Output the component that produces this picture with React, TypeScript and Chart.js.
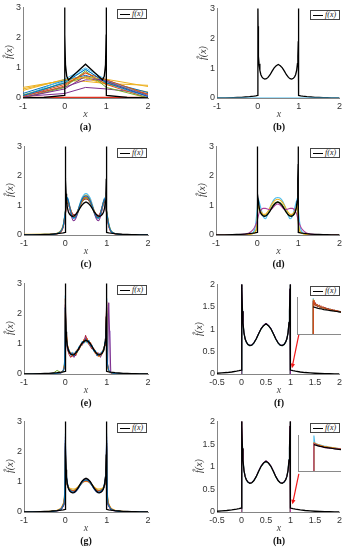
import React, { useEffect, useRef } from 'react';
import { Chart, registerables } from 'chart.js';
Chart.register(...registerables);
Chart.defaults.font.family = "'Liberation Sans', Arial, sans-serif";

const BLACK = '#000000';
const BLUE = '#0072BD';
const ORANGE = '#D95319';
const YELLOW = '#EDB120';
const PURPLE = '#7E2F8E';
const GREEN = '#77AC30';
const CYAN = '#4DBEEE';
const DARKRED = '#A2142F';
const RED = '#E0301E';
const MAGENTA = '#B0409A';
const LAVENDER = '#B89BD8';
const ARROW_RED = '#F01818';

// ---- true density f(x) ----
const fX = [-1, -0.8, -0.6, -0.5, -0.4, -0.3, -0.2, -0.1, -0.05, -0.001, 0, 0.003, 0.006, 0.01, 0.02, 0.03, 0.05, 0.075, 0.1, 0.13, 0.17, 0.21, 0.25, 0.3, 0.35, 0.4, 0.45, 0.5, 0.55, 0.6, 0.65, 0.7, 0.75, 0.79, 0.83, 0.87, 0.9, 0.925, 0.95, 0.97, 0.98, 0.99, 0.994, 0.997, 1, 1.001, 1.05, 1.1, 1.2, 1.3, 1.4, 1.5, 1.6, 1.7, 1.8, 1.9, 2];
const fY = [0.003, 0.006, 0.012, 0.017, 0.024, 0.033, 0.045, 0.062, 0.073, 0.088, 5, 3.2, 2.4, 1.9, 1.4, 1.15, 0.92, 0.78, 0.71, 0.66, 0.635, 0.645, 0.69, 0.78, 0.9, 1.01, 1.08, 1.12, 1.08, 1.01, 0.9, 0.78, 0.69, 0.645, 0.635, 0.66, 0.71, 0.78, 0.92, 1.15, 1.4, 1.9, 2.4, 3.2, 5, 0.088, 0.073, 0.062, 0.045, 0.033, 0.024, 0.017, 0.012, 0.008, 0.006, 0.004, 0.003];

// coarse f for panel (a)
const fAX = [-1, -0.5, -0.001, 0, 0.005, 0.02, 0.05, 0.09, 0.5, 0.91, 0.95, 0.98, 0.995, 1, 1.001, 1.5, 2];
const fAY = [0.003, 0.017, 0.088, 5, 2.1, 1.1, 0.72, 0.6, 1.12, 0.6, 0.72, 1.1, 2.1, 5, 0.088, 0.017, 0.003];

// ---- panel (a) ----
const xA = [-1, 0, 0.5, 1, 2];
const a1 = [0.08, 0.5, 0.95, 0.5, 0.05];
const a2 = [0.05, 0.45, 0.82, 0.6, 0.12];
const a3 = [0.3, 0.6, 0.7, 0.62, 0.38];
const a4 = [0.02, 0.3, 0.72, 0.55, 0.05];
const a5 = [0.0, 0.35, 0.9, 0.35, 0.0];
const a6 = [0.05, 0.62, 1.0, 0.6, 0.05];
const a7 = [0.02, 0.02, 0.02, 0.02, 0.02];
const a8 = [0.15, 0.58, 0.75, 0.55, 0.18];
const a9 = [0.0, 0.4, 0.85, 0.45, 0.0];
const a10 = [0.25, 0.62, 0.66, 0.45, 0.2];
const a11 = [0.08, 0.36, 0.6, 0.6, 0.08];
const a12 = [0.1, 0.5, 0.68, 0.5, 0.12];
const a13 = [0.0, 0.55, 0.95, 0.5, 0.0];
const a14 = [0.35, 0.58, 0.55, 0.48, 0.42];
const a15 = [0.05, 0.15, 0.35, 0.3, 0.15];

// ---- panel (b) ----
const xB0 = [-1, 2];
const b0 = [0, 0];

// ---- panel (c) ----
const xC = [-1, -0.5, -0.3, -0.2, -0.1, -0.05, 0, 0.05, 0.1, 0.15, 0.2, 0.25, 0.3, 0.35, 0.4, 0.45, 0.5, 0.55, 0.6, 0.65, 0.7, 0.75, 0.8, 0.85, 0.9, 0.95, 1, 1.05, 1.1, 1.2, 1.3, 1.5, 2];
const c1 = [0.01, 0.01, 0.02, 0.05, 0.15, 0.32, 0.8, 1.25, 0.98, 0.7, 0.58, 0.62, 0.8, 1.02, 1.2, 1.3, 1.32, 1.28, 1.16, 0.98, 0.78, 0.62, 0.58, 0.72, 1.0, 1.22, 0.78, 0.35, 0.14, 0.05, 0.02, 0.01, 0.01];
const c2 = [0.01, 0.01, 0.02, 0.04, 0.12, 0.3, 0.75, 1.2, 1.0, 0.75, 0.62, 0.65, 0.8, 0.98, 1.15, 1.25, 1.28, 1.25, 1.15, 0.98, 0.8, 0.66, 0.62, 0.75, 1.0, 1.2, 0.75, 0.32, 0.12, 0.04, 0.02, 0.01, 0.01];
const c3 = [0.02, 0.02, 0.03, 0.06, 0.17, 0.35, 0.78, 1.18, 0.95, 0.72, 0.62, 0.66, 0.82, 1.0, 1.18, 1.3, 1.35, 1.3, 1.18, 1.0, 0.82, 0.66, 0.6, 0.72, 0.98, 1.2, 0.8, 0.38, 0.15, 0.05, 0.02, 0.01, 0.01];
const c4 = [0.01, 0.01, 0.02, 0.05, 0.14, 0.3, 0.72, 1.22, 0.92, 0.62, 0.48, 0.55, 0.75, 0.98, 1.18, 1.3, 1.33, 1.3, 1.18, 0.98, 0.75, 0.55, 0.48, 0.62, 0.92, 1.22, 0.72, 0.3, 0.13, 0.05, 0.02, 0.01, 0.01];
const c5 = [0.01, 0.02, 0.03, 0.06, 0.16, 0.33, 0.76, 1.15, 0.96, 0.74, 0.6, 0.6, 0.74, 0.95, 1.12, 1.22, 1.25, 1.22, 1.12, 0.95, 0.74, 0.6, 0.58, 0.7, 0.96, 1.18, 0.78, 0.36, 0.15, 0.05, 0.02, 0.01, 0.01];
const c6 = [0.01, 0.01, 0.02, 0.05, 0.15, 0.32, 0.78, 1.28, 1.02, 0.72, 0.56, 0.6, 0.8, 1.05, 1.25, 1.36, 1.4, 1.36, 1.25, 1.05, 0.8, 0.6, 0.55, 0.7, 1.0, 1.26, 0.82, 0.4, 0.16, 0.05, 0.02, 0.01, 0.01];
const c7 = [0.01, 0.01, 0.02, 0.04, 0.12, 0.28, 0.7, 1.1, 0.95, 0.78, 0.68, 0.7, 0.82, 0.98, 1.12, 1.2, 1.22, 1.2, 1.1, 0.96, 0.8, 0.7, 0.66, 0.76, 0.98, 1.15, 0.74, 0.32, 0.12, 0.04, 0.02, 0.01, 0.01];

// ---- panel (d) ----
const xD = [-1, -0.5, -0.3, -0.2, -0.1, -0.05, 0, 0.02, 0.05, 0.1, 0.15, 0.2, 0.25, 0.3, 0.35, 0.4, 0.45, 0.5, 0.55, 0.6, 0.65, 0.7, 0.75, 0.8, 0.85, 0.9, 0.95, 0.98, 1, 1.05, 1.1, 1.2, 1.3, 1.5, 2];
const dPurple = [0, 0.01, 0.03, 0.07, 0.18, 0.3, 0.48, 0.6, 0.75, 0.86, 0.9, 0.9, 0.88, 0.86, 0.88, 0.95, 1.02, 1.05, 1.02, 0.95, 0.88, 0.86, 0.88, 0.9, 0.9, 0.86, 0.75, 0.6, 0.48, 0.3, 0.18, 0.07, 0.03, 0.01, 0];
const dCyan = [0, 0, 0.01, 0.03, 0.08, 0.25, 0.85, 1.25, 1.12, 0.85, 0.62, 0.55, 0.68, 0.88, 1.05, 1.18, 1.25, 1.27, 1.25, 1.18, 1.05, 0.88, 0.68, 0.55, 0.62, 0.85, 1.12, 1.25, 0.85, 0.25, 0.08, 0.03, 0.01, 0, 0];
const dYellow = [0, 0, 0.01, 0.02, 0.05, 0.1, 0.4, 1.0, 0.92, 0.78, 0.7, 0.7, 0.78, 0.9, 1.03, 1.13, 1.19, 1.21, 1.19, 1.13, 1.03, 0.9, 0.78, 0.7, 0.7, 0.78, 0.92, 1.0, 0.4, 0.1, 0.05, 0.02, 0.01, 0, 0];
const dGreen = [0, 0, 0.01, 0.02, 0.05, 0.1, 0.45, 1.1, 0.88, 0.72, 0.66, 0.65, 0.7, 0.8, 0.93, 1.04, 1.1, 1.12, 1.1, 1.04, 0.93, 0.8, 0.7, 0.65, 0.66, 0.72, 0.88, 1.1, 0.45, 0.1, 0.05, 0.02, 0.01, 0, 0];

// ---- panel (e) ----
const xE = [-1, -0.5, -0.3, -0.2, -0.1, -0.05, -0.02, 0, 0.02, 0.05, 0.09, 0.13, 0.17, 0.21, 0.25, 0.29, 0.33, 0.37, 0.41, 0.45, 0.49, 0.53, 0.57, 0.61, 0.65, 0.69, 0.73, 0.77, 0.81, 0.85, 0.89, 0.93, 0.96, 0.98, 1, 1.02, 1.05, 1.1, 1.2, 1.4, 2];
const e1 = [0, 0.01, 0.01, 0.02, 0.04, 0.1, 0.25, 2.2, 1.3, 0.88, 0.8, 0.62, 0.7, 0.6, 0.75, 0.72, 0.9, 0.92, 1.08, 1.02, 1.15, 1.05, 1.12, 0.92, 0.95, 0.75, 0.78, 0.6, 0.68, 0.62, 0.75, 0.78, 1.05, 1.3, 2.0, 0.3, 0.12, 0.04, 0.01, 0.01, 0];
const e2 = [0, 0, 0.02, 0.01, 0.06, 0.12, 0.3, 2.5, 1.45, 1.0, 0.68, 0.72, 0.58, 0.7, 0.64, 0.82, 0.8, 1.0, 0.98, 1.15, 1.08, 1.18, 0.98, 1.05, 0.85, 0.85, 0.66, 0.72, 0.58, 0.7, 0.65, 0.88, 0.95, 1.5, 2.4, 0.35, 0.1, 0.03, 0.02, 0, 0];
const e3 = [0.01, 0, 0.01, 0.03, 0.05, 0.08, 0.35, 2.0, 1.38, 0.95, 0.78, 0.7, 0.6, 0.66, 0.7, 0.7, 0.88, 0.9, 1.0, 1.12, 1.05, 1.12, 1.08, 0.95, 0.92, 0.78, 0.7, 0.62, 0.58, 0.6, 0.72, 0.75, 1.02, 1.25, 1.9, 0.25, 0.08, 0.05, 0.01, 0.01, 0];
const e4 = [0, 0.01, 0.01, 0.02, 0.03, 0.1, 0.22, 2.3, 1.25, 0.85, 0.72, 0.65, 0.68, 0.55, 0.68, 0.78, 0.82, 0.98, 0.95, 1.08, 1.2, 1.1, 1.0, 1.02, 0.88, 0.8, 0.72, 0.65, 0.7, 0.55, 0.7, 0.82, 0.98, 1.35, 2.2, 0.2, 2.36, 0.05, 0.02, 0.01, 0];
const e5 = [0.01, 0.01, 0.02, 0.12, 0.04, 0.09, 0.28, 2.1, 1.35, 0.92, 0.75, 0.7, 0.66, 0.62, 0.72, 0.8, 0.85, 0.95, 1.05, 1.05, 1.1, 1.08, 1.02, 0.98, 0.9, 0.8, 0.68, 0.68, 0.62, 0.65, 0.7, 0.85, 1.0, 1.4, 2.1, 0.28, 0.11, 0.04, 0.01, 0.01, 0];
const e6 = [0, 0.01, 0.01, 0.02, 0.05, 0.15, 0.4, 2.6, 1.3, 0.95, 0.7, 0.68, 0.72, 0.66, 0.68, 0.76, 0.92, 0.96, 1.02, 1.1, 1.12, 1.02, 1.05, 0.95, 0.88, 0.75, 0.72, 0.68, 0.62, 0.68, 0.74, 0.8, 1.08, 1.45, 2.5, 0.35, 0.13, 0.05, 0.02, 0.01, 0];
const e7 = [0, 0, 0.01, 0.02, 0.04, 0.1, 0.3, 2.2, 1.4, 0.82, 0.65, 0.55, 0.62, 0.7, 0.6, 0.75, 0.8, 0.92, 1.0, 1.05, 1.28, 1.12, 1.0, 0.9, 0.82, 0.82, 0.7, 0.6, 0.62, 0.58, 0.68, 0.8, 1.0, 1.35, 2.3, 0.3, 0.1, 0.04, 0.01, 0, 0];
const eSpikeX = [1.07, 1.08, 1.09];
const eSpikeY = [0.03, 1.43, 0.03];

// ---- panel (g) ----
const xG = [-1, -0.5, -0.3, -0.2, -0.1, -0.05, -0.02, 0, 0.01, 0.03, 0.06, 0.1, 0.15, 0.2, 0.25, 0.3, 0.35, 0.4, 0.45, 0.5, 0.55, 0.6, 0.65, 0.7, 0.75, 0.8, 0.85, 0.9, 0.94, 0.97, 0.99, 1, 1.02, 1.05, 1.1, 1.2, 1.3, 1.5, 2];
const g1 = [0, 0.01, 0.02, 0.04, 0.1, 0.22, 0.45, 2.4, 1.6, 1.1, 0.86, 0.74, 0.68, 0.66, 0.7, 0.77, 0.87, 0.97, 1.04, 1.06, 1.04, 0.97, 0.87, 0.77, 0.7, 0.66, 0.68, 0.74, 0.86, 1.1, 1.6, 2.4, 0.45, 0.22, 0.1, 0.04, 0.02, 0.01, 0];
const g2 = [0, 0.01, 0.02, 0.05, 0.12, 0.25, 0.5, 2.2, 1.5, 1.05, 0.84, 0.75, 0.71, 0.7, 0.73, 0.8, 0.88, 0.96, 1.01, 1.03, 1.01, 0.96, 0.88, 0.8, 0.73, 0.7, 0.71, 0.75, 0.84, 1.05, 1.5, 2.2, 0.5, 0.25, 0.12, 0.05, 0.02, 0.01, 0];
const g3 = [0, 0.01, 0.03, 0.06, 0.14, 0.28, 0.55, 2.0, 1.4, 1.0, 0.86, 0.8, 0.77, 0.76, 0.78, 0.83, 0.9, 0.96, 1.0, 1.01, 1.0, 0.96, 0.9, 0.83, 0.78, 0.76, 0.77, 0.8, 0.86, 1.0, 1.4, 2.0, 0.55, 0.28, 0.14, 0.06, 0.03, 0.01, 0];
const g4 = [0, 0.01, 0.02, 0.04, 0.09, 0.2, 0.42, 2.5, 1.65, 1.12, 0.88, 0.72, 0.66, 0.65, 0.68, 0.76, 0.88, 1.0, 1.07, 1.1, 1.07, 1.0, 0.88, 0.76, 0.68, 0.65, 0.66, 0.72, 0.88, 1.12, 1.65, 2.5, 0.42, 0.2, 0.09, 0.04, 0.02, 0.01, 0];
const g5 = [0, 0.01, 0.02, 0.05, 0.11, 0.24, 0.48, 2.3, 1.55, 1.08, 0.85, 0.76, 0.72, 0.72, 0.75, 0.8, 0.9, 0.99, 1.05, 1.07, 1.05, 0.99, 0.9, 0.8, 0.75, 0.72, 0.72, 0.76, 0.85, 1.08, 1.55, 2.3, 0.48, 0.24, 0.11, 0.05, 0.02, 0.01, 0];
const g6 = [0, 0.01, 0.02, 0.05, 0.12, 0.26, 0.55, 2.6, 1.7, 1.2, 0.92, 0.74, 0.66, 0.64, 0.67, 0.75, 0.86, 0.96, 1.03, 1.05, 1.03, 0.96, 0.86, 0.75, 0.67, 0.64, 0.66, 0.74, 0.92, 1.15, 1.7, 2.6, 0.55, 0.26, 0.12, 0.05, 0.02, 0.01, 0];
const g7 = [0, 0.01, 0.02, 0.04, 0.1, 0.2, 0.44, 2.3, 1.5, 1.04, 0.84, 0.76, 0.72, 0.7, 0.72, 0.78, 0.88, 0.98, 1.04, 1.06, 1.04, 0.98, 0.88, 0.78, 0.72, 0.7, 0.72, 0.76, 0.84, 1.04, 1.5, 2.3, 0.44, 0.2, 0.1, 0.04, 0.02, 0.01, 0];

// ---- panels (f) and (h): estimates on [0, 1] ----
const estX = [0, 0.003, 0.006, 0.01, 0.02, 0.03, 0.05, 0.075, 0.1, 0.13, 0.17, 0.21, 0.25, 0.3, 0.35, 0.4, 0.45, 0.5, 0.55, 0.6, 0.65, 0.7, 0.75, 0.79, 0.83, 0.87, 0.9, 0.925, 0.95, 0.97, 0.98, 0.99, 0.994, 0.997, 1];
const estCyan = [0, 3.2, 2.4, 1.9, 1.4, 1.15, 0.92, 0.78, 0.71, 0.66, 0.635, 0.645, 0.69, 0.78, 0.9, 1.01, 1.08, 1.12, 1.08, 1.01, 0.9, 0.78, 0.69, 0.645, 0.635, 0.66, 0.71, 0.78, 0.92, 1.15, 1.4, 1.9, 2.4, 3.2, 0];
const estPurple = [0, 3.2, 2.4, 1.9, 1.4, 1.15, 0.92, 0.78, 0.71, 0.665, 0.64, 0.65, 0.695, 0.79, 0.91, 1.02, 1.095, 1.135, 1.095, 1.02, 0.91, 0.79, 0.695, 0.65, 0.64, 0.665, 0.71, 0.78, 0.92, 1.15, 1.4, 1.9, 2.4, 3.2, 0];
const estGreen = [0, 3.2, 2.4, 1.9, 1.4, 1.15, 0.92, 0.78, 0.71, 0.66, 0.63, 0.64, 0.685, 0.775, 0.895, 1.005, 1.075, 1.115, 1.075, 1.005, 0.895, 0.775, 0.685, 0.64, 0.63, 0.66, 0.71, 0.78, 0.92, 1.15, 1.4, 1.9, 2.4, 3.2, 0];
const arrowF = { from: [1.17, 0.88], to: [1.03, 0.13] };
const arrowH = { from: [1.17, 0.84], to: [1.04, 0.17] };

// ---- insets (zoom just right of x = 1) ----
const insetX = [1.001, 1.005, 1.01, 1.02, 1.03, 1.04, 1.05, 1.06, 1.07, 1.08, 1.09, 1.1, 1.11, 1.12, 1.13];
const insetEstX = [1, 1.001, 1.005, 1.01, 1.02, 1.03, 1.04, 1.05, 1.06, 1.07, 1.08, 1.09, 1.1, 1.11, 1.12, 1.13];
const insetBlack = [0.088, 0.087, 0.086, 0.084, 0.082, 0.081, 0.079, 0.078, 0.077, 0.076, 0.075, 0.074, 0.073, 0.072, 0.071];
const fInCyan = [0, 0.116, 0.1, 0.096, 0.093, 0.09, 0.087, 0.086, 0.083, 0.082, 0.08, 0.078, 0.077, 0.075, 0.074, 0.073];
const fInOrange = [0, 0.104, 0.11, 0.09, 0.097, 0.086, 0.091, 0.082, 0.086, 0.079, 0.081, 0.076, 0.078, 0.074, 0.074, 0.072];
const fInRed = [0, 0.108, 0.094, 0.102, 0.088, 0.094, 0.083, 0.088, 0.08, 0.083, 0.077, 0.079, 0.075, 0.076, 0.073, 0.072];
const fInGreen = [0, 0.1, 0.106, 0.094, 0.091, 0.088, 0.086, 0.084, 0.082, 0.081, 0.079, 0.077, 0.076, 0.075, 0.073, 0.072];
const fInYellow = [0, 0.112, 0.097, 0.099, 0.09, 0.091, 0.085, 0.085, 0.081, 0.08, 0.078, 0.078, 0.075, 0.074, 0.073, 0.071];
const fInBlue = [0, 0.106, 0.102, 0.092, 0.094, 0.087, 0.088, 0.083, 0.084, 0.079, 0.08, 0.076, 0.076, 0.074, 0.072, 0.072];
const hInCyan = [0, 0.118, 0.094, 0.092, 0.089, 0.087, 0.085, 0.083, 0.082, 0.08, 0.079, 0.078, 0.077, 0.076, 0.075, 0.074];
const hInPurple = [0, 0.092, 0.09, 0.088, 0.085, 0.082, 0.08, 0.078, 0.077, 0.076, 0.075, 0.075, 0.074, 0.074, 0.073, 0.073];
const hInOrange = [0, 0.094, 0.092, 0.09, 0.087, 0.085, 0.083, 0.081, 0.08, 0.079, 0.078, 0.077, 0.076, 0.075, 0.074, 0.073];
const hInGreen = [0, 0.093, 0.091, 0.089, 0.086, 0.084, 0.082, 0.08, 0.079, 0.078, 0.077, 0.076, 0.075, 0.074, 0.073, 0.072];
const hInYellow = [0, 0.095, 0.093, 0.091, 0.088, 0.086, 0.084, 0.082, 0.081, 0.08, 0.079, 0.078, 0.077, 0.076, 0.075, 0.074];

// ---- axis ticks: [min, max, step] ----
const xTicksWide = [-1, 2, 1];
const xTicksNarrow = [-0.5, 2, 0.5];
const yTicks3 = [3, 1];
const yTicks2 = [2, 0.5];

type Series = { xs: number[]; ys: number[]; color: string; w?: number; smooth?: boolean; top?: boolean };
type Plot = { l: number; t: number; r: number; b: number };
type InsetSpec = { left: number; top: number; width: number; height: number; xMin: number; xMax: number; yMax: number; series: Series[] };
type PanelSpec = {
  id: string; cl: number; cw: number; plot: Plot;
  xt: number[]; yt: number[]; series: Series[];
  arrow?: { from: number[]; to: number[] };
  inset?: InsetSpec;
};

const blackF: Series = { xs: fX, ys: fY, color: BLACK, w: 1.3 };
const S = (xs: number[], ys: number[], color: string, smooth = false, w = 1): Series => ({ xs, ys, color, smooth, w });

const PANELS: PanelSpec[] = [
  {
    id: 'a', cl: 0, cw: 172, plot: { l: 23, t: 6, r: 148, b: 98 }, xt: xTicksWide, yt: yTicks3,
    series: [
      { xs: fAX, ys: fAY, color: BLACK, w: 1.3 },
      S(xA, a1, BLUE), S(xA, a2, ORANGE), S(xA, a3, YELLOW), S(xA, a4, PURPLE), S(xA, a5, GREEN),
      S(xA, a6, CYAN), S(xA, a7, RED, false, 1.2), S(xA, a8, BLUE), S(xA, a9, ORANGE), S(xA, a10, YELLOW),
      S(xA, a11, PURPLE), S(xA, a12, GREEN), S(xA, a13, CYAN), S(xA, a14, YELLOW), S(xA, a15, PURPLE),
    ],
  },
  {
    id: 'b', cl: 172, cw: 173, plot: { l: 217, t: 7, r: 341, b: 98 }, xt: xTicksWide, yt: yTicks3,
    series: [blackF, { xs: xB0, ys: b0, color: CYAN, w: 1.2, top: true }],
  },
  {
    id: 'c', cl: 0, cw: 172, plot: { l: 24, t: 145, r: 148, b: 235 }, xt: xTicksWide, yt: yTicks3,
    series: [blackF, S(xC, c1, BLUE, true, 1.1), S(xC, c2, ORANGE, true, 1.1), S(xC, c3, YELLOW, true, 1.1), S(xC, c4, PURPLE, true, 1.1), S(xC, c5, GREEN, true, 1.1), S(xC, c6, CYAN, true, 1.1), S(xC, c7, DARKRED, true, 1.1)],
  },
  {
    id: 'd', cl: 172, cw: 173, plot: { l: 216, t: 145, r: 341, b: 235 }, xt: xTicksWide, yt: yTicks3,
    series: [blackF, S(xD, dPurple, MAGENTA, true, 1.1), S(xD, dYellow, YELLOW, true, 1.1), S(xD, dGreen, GREEN, true, 1.1), S(xD, dCyan, CYAN, true, 1.2)],
  },
  {
    id: 'e', cl: 0, cw: 172, plot: { l: 24, t: 282, r: 148, b: 374 }, xt: xTicksWide, yt: yTicks3,
    series: [blackF, S(xE, e1, BLUE), S(xE, e2, ORANGE), S(xE, e3, YELLOW), S(xE, e4, PURPLE), S(xE, e5, GREEN), S(xE, e6, CYAN), S(xE, e7, DARKRED), S(eSpikeX, eSpikeY, LAVENDER)],
  },
  {
    id: 'f', cl: 172, cw: 173, plot: { l: 217, t: 283, r: 341, b: 374 }, xt: xTicksNarrow, yt: yTicks2,
    series: [blackF, S(estX, estPurple, PURPLE), S(estX, estGreen, GREEN), S(estX, estCyan, CYAN, false, 1.2)],
    arrow: arrowF,
    inset: {
      left: 297, top: 297, width: 44, height: 38, xMin: 0.93, xMax: 1.13, yMax: 0.12,
      series: [
        { xs: insetX, ys: insetBlack, color: BLACK, w: 1.2 },
        S(insetEstX, fInOrange, ORANGE), S(insetEstX, fInRed, DARKRED), S(insetEstX, fInGreen, GREEN),
        S(insetEstX, fInYellow, YELLOW), S(insetEstX, fInBlue, BLUE), S(insetEstX, fInCyan, CYAN, false, 1.1),
      ],
    },
  },
  {
    id: 'g', cl: 0, cw: 172, plot: { l: 24, t: 420, r: 148, b: 512 }, xt: xTicksWide, yt: yTicks3,
    series: [blackF, S(xG, g1, BLUE, true, 1.1), S(xG, g2, ORANGE, true, 1.1), S(xG, g3, YELLOW, true, 1.1), S(xG, g4, PURPLE, true, 1.1), S(xG, g5, GREEN, true, 1.1), S(xG, g6, CYAN, true, 1.1), S(xG, g7, DARKRED, true, 1.1)],
  },
  {
    id: 'h', cl: 172, cw: 173, plot: { l: 217, t: 420, r: 341, b: 512 }, xt: xTicksNarrow, yt: yTicks2,
    series: [blackF, S(estX, estPurple, MAGENTA), S(estX, estGreen, GREEN), S(estX, estCyan, CYAN, false, 1.2)],
    arrow: arrowH,
    inset: {
      left: 298, top: 435, width: 43, height: 37, xMin: 0.93, xMax: 1.13, yMax: 0.12,
      series: [
        { xs: insetX, ys: insetBlack, color: BLACK, w: 1.2 },
        S(insetEstX, hInPurple, MAGENTA), S(insetEstX, hInOrange, ORANGE), S(insetEstX, hInGreen, GREEN),
        S(insetEstX, hInYellow, YELLOW), S(insetEstX, hInCyan, CYAN, false, 1.1),
      ],
    },
  },
];

function toDatasets(series: Series[]) {
  return series.map((s, i) => ({
    label: 's' + i,
    data: s.xs.map((x, j) => ({ x, y: s.ys[j] })),
    borderColor: s.color,
    backgroundColor: s.color,
    borderWidth: s.w ?? 1,
    pointRadius: 0,
    pointHoverRadius: 0,
    fill: false,
    tension: 0,
    cubicInterpolationMode: s.smooth ? 'monotone' : 'default',
    order: s.top ? -1 : s.color === BLACK ? 0 : 1,
  }));
}

const SERIF = "'Liberation Serif', 'DejaVu Serif', serif";
const fmt = (v: any) => String(Math.round(Number(v) * 100) / 100);

function Inset({ spec }: { spec: InsetSpec }) {
  const ref = useRef<HTMLCanvasElement>(null);
  const cw = spec.width - 1;
  const ch = spec.height - 1;
  useEffect(() => {
    const chart = new Chart(ref.current as HTMLCanvasElement, {
      type: 'line',
      data: { datasets: toDatasets(spec.series) as any },
      options: {
        animation: false, responsive: false, maintainAspectRatio: false, events: [],
        layout: { padding: 0 },
        plugins: { legend: { display: false }, tooltip: { enabled: false } },
        scales: {
          x: { type: 'linear', display: false, min: spec.xMin, max: spec.xMax },
          y: { type: 'linear', display: false, min: 0, max: spec.yMax },
        },
      } as any,
    });
    return () => chart.destroy();
  }, []);
  return (
    <div style={{ position: 'absolute', left: spec.left, top: spec.top, width: spec.width, height: spec.height, boxSizing: 'border-box', borderLeft: '1px solid #8a8a8a', borderBottom: '1px solid #8a8a8a' }}>
      <canvas ref={ref} width={cw} height={ch} style={{ display: 'block', width: cw, height: ch }} />
    </div>
  );
}

function Panel({ p }: { p: PanelSpec }) {
  const ref = useRef<HTMLCanvasElement>(null);
  const { plot } = p;
  const ct = plot.t - 6;
  const ch = plot.b + 15 - ct;
  useEffect(() => {
    const plugins: any[] = [];
    if (p.arrow) {
      const arrow = p.arrow;
      plugins.push({
        id: 'arrow',
        afterDatasetsDraw(chart: any) {
          const { ctx, scales } = chart;
          const x1 = scales.x.getPixelForValue(arrow.from[0]);
          const y1 = scales.y.getPixelForValue(arrow.from[1]);
          const x2 = scales.x.getPixelForValue(arrow.to[0]);
          const y2 = scales.y.getPixelForValue(arrow.to[1]);
          const ang = Math.atan2(y2 - y1, x2 - x1);
          const L = 5;
          ctx.save();
          ctx.strokeStyle = ARROW_RED;
          ctx.fillStyle = ARROW_RED;
          ctx.lineWidth = 1.2;
          ctx.beginPath();
          ctx.moveTo(x1, y1);
          ctx.lineTo(x2 - 3 * Math.cos(ang), y2 - 3 * Math.sin(ang));
          ctx.stroke();
          ctx.beginPath();
          ctx.moveTo(x2, y2);
          ctx.lineTo(x2 - L * Math.cos(ang - 0.45), y2 - L * Math.sin(ang - 0.45));
          ctx.lineTo(x2 - L * Math.cos(ang + 0.45), y2 - L * Math.sin(ang + 0.45));
          ctx.closePath();
          ctx.fill();
          ctx.restore();
        },
      });
    }
    const tickFont = { size: 9, family: "'Liberation Sans', Arial, sans-serif" };
    const chart = new Chart(ref.current as HTMLCanvasElement, {
      type: 'line',
      data: { datasets: toDatasets(p.series) as any },
      options: {
        animation: false, responsive: false, maintainAspectRatio: false, events: [],
        layout: { padding: { left: 0, top: plot.t - ct, right: p.cl + p.cw - plot.r, bottom: 0 } },
        plugins: { legend: { display: false }, tooltip: { enabled: false } },
        scales: {
          x: {
            type: 'linear', min: p.xt[0], max: p.xt[1],
            afterFit: (s: any) => { s.height = ct + ch - plot.b; },
            grid: { display: false, drawTicks: false },
            border: { display: true, color: '#858585', width: 1 },
            ticks: { stepSize: p.xt[2], padding: 3, font: tickFont, color: '#333', maxRotation: 0, autoSkip: false, includeBounds: true, callback: fmt },
          },
          y: {
            type: 'linear', min: 0, max: p.yt[0],
            afterFit: (s: any) => { s.width = plot.l - p.cl; },
            grid: { display: false, drawTicks: false },
            border: { display: true, color: '#858585', width: 1 },
            ticks: { stepSize: p.yt[1], padding: 2, font: tickFont, color: '#333', autoSkip: false, callback: fmt },
          },
        },
      } as any,
      plugins,
    });
    return () => chart.destroy();
  }, []);
  const midX = (plot.l + plot.r) / 2;
  const midY = (plot.t + plot.b) / 2;
  const titleOffset = p.yt[1] < 1 ? 18 : 14;
  return (
    <>
      <canvas ref={ref} width={p.cw} height={ch} style={{ position: 'absolute', left: p.cl, top: ct, width: p.cw, height: ch }} />
      {p.inset && <Inset spec={p.inset} />}
      <div style={{ position: 'absolute', left: plot.r - 31, top: plot.t + 3, width: 30, height: 10, boxSizing: 'border-box', border: '1px solid #444', background: '#fff', display: 'flex', alignItems: 'center' }}>
        <div style={{ width: 10, height: 0, borderTop: '1.5px solid #000', marginLeft: 2, marginRight: 2 }} />
        <span style={{ fontFamily: SERIF, fontStyle: 'italic', fontSize: 8, lineHeight: '8px', color: '#222', whiteSpace: 'nowrap' }}>f(x)</span>
      </div>
      <div style={{ position: 'absolute', left: plot.l - titleOffset - 20, top: midY - 6, width: 40, height: 12, textAlign: 'center', transform: 'rotate(-90deg)', fontFamily: SERIF, fontStyle: 'italic', fontSize: 10, lineHeight: '12px', color: '#444', whiteSpace: 'nowrap' }}>{'f\u0302(x)'}</div>
      <div style={{ position: 'absolute', left: midX - 10, top: plot.b + 10, width: 20, height: 12, textAlign: 'center', fontFamily: SERIF, fontStyle: 'italic', fontSize: 10, lineHeight: '12px', color: '#444' }}>x</div>
      <div style={{ position: 'absolute', left: midX - 15, top: plot.b + 22, width: 30, height: 14, textAlign: 'center', fontFamily: SERIF, fontWeight: 'bold', fontSize: 10, lineHeight: '14px', color: '#111' }}>({p.id})</div>
    </>
  );
}

export default function App() {
  return (
    <div style={{ position: 'absolute', left: 0, top: 0, width: 345, height: 550, background: '#fff', overflow: 'hidden' }}>
      {PANELS.map((p) => <Panel key={p.id} p={p} />)}
    </div>
  );
}
